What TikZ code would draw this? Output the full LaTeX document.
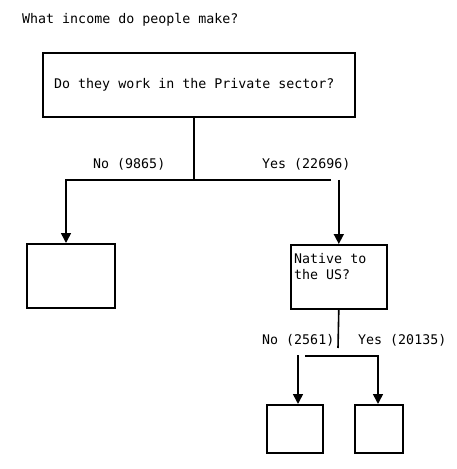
\documentclass[tikz,border=0pt]{standalone}
\usepackage{fontspec}
\setmonofont{DejaVu Sans Mono}
\usetikzlibrary{arrows.meta}
\begin{document}
\begin{tikzpicture}[x=1bp,y=-1bp,
  every node/.style={font=\ttfamily\fontsize{13.3bp}{16bp}\selectfont},
  txt/.style={inner sep=0pt, anchor=west},
  box/.style={draw, line width=1.6bp, inner sep=0pt},
  link/.style={line width=1.6bp},
  arr/.style={link, -{Triangle[length=10bp,width=10bp]}}]
  \useasboundingbox (0,0) rectangle (457,469);

  % heading
  \node[txt] (title) at (22,20) {What income do people make?};

  % first question
  \node[box, minimum width=312bp, minimum height=64bp, anchor=north west] (q1) at (42,52) {};
  \node[txt] (q1t) at (54,85) {Do they work in the Private sector?};

  % second question and leaves
  \node[box, minimum width=96bp, minimum height=64bp, anchor=north west] (q2) at (290,244) {};
  \node[txt, anchor=north west, align=left] (q2t) at (294,253) {Native to\\the US?};
  \node[box, minimum width=88bp, minimum height=64bp, anchor=north west] (leafA) at (26,243) {};
  \node[box, minimum width=56bp, minimum height=48bp, anchor=north west] (leafB) at (266,404) {};
  \node[box, minimum width=48bp, minimum height=48bp, anchor=north west] (leafC) at (354,404) {};

  % branch labels
  \node[txt] (no1) at (93,164) {No (9865)};
  \node[txt] (yes1) at (262,164) {Yes (22696)};
  \node[txt] (no2) at (262,340) {No (2561)};
  \node[txt] (yes2) at (358,340) {Yes (20135)};

  % first split
  \coordinate (j1) at (194,180);
  \coordinate (j1l) at (66,180);
  \coordinate (j1r) at (331,180);
  \draw[link] (j1 |- q1.south) -- (j1);
  \draw[arr] (j1r) -- (j1l) -- (j1l |- leafA.north);
  \draw[arr] (q2.north |- j1) -- (q2.north);

  % second split
  \coordinate (j2) at (338,348);
  \coordinate (j2l) at (305,356);
  \coordinate (j2r) at (378,356);
  \coordinate (j2b) at (298,355);
  \draw[link] (q2.south) -- (j2);
  \draw[arr] (j2l) -- (j2r) -- (j2r |- leafC.north);
  \draw[arr] (j2b) -- (j2b |- leafB.north);
\end{tikzpicture}
\end{document}
